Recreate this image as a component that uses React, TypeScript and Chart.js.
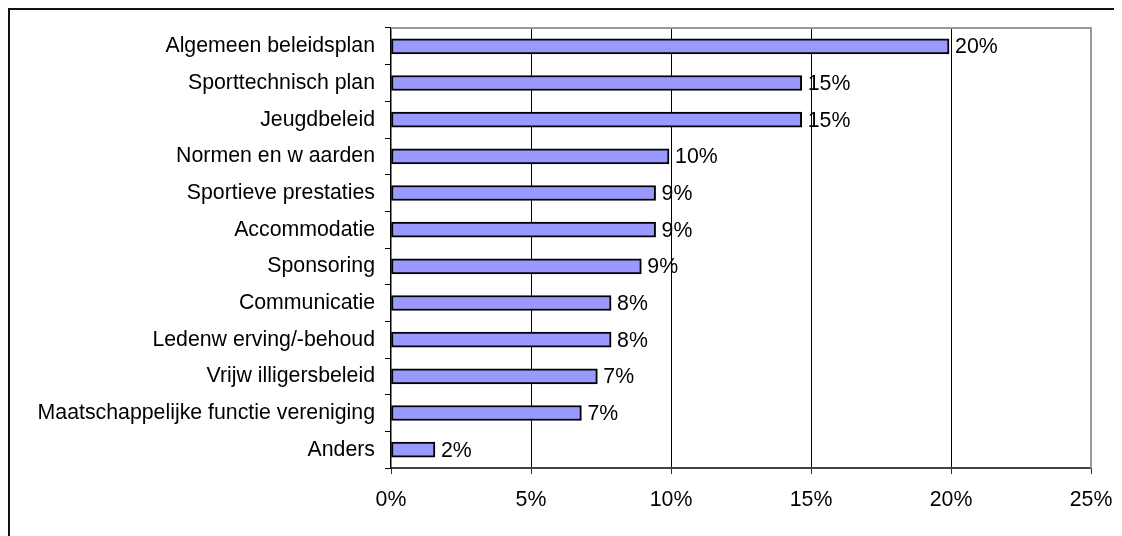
import React, { useEffect, useRef } from "react";
import { Chart, registerables } from "chart.js";

Chart.register(...registerables);

const categories: string[] = [
  "Algemeen beleidsplan",
  "Sporttechnisch plan",
  "Jeugdbeleid",
  "Normen en w aarden",
  "Sportieve prestaties",
  "Accommodatie",
  "Sponsoring",
  "Communicatie",
  "Ledenw erving/-behoud",
  "Vrijw illigersbeleid",
  "Maatschappelijke functie vereniging",
  "Anders",
];

const values: number[] = [19.93, 14.67, 14.67, 9.93, 9.45, 9.45, 8.94, 7.86, 7.86, 7.37, 6.8, 1.57];

const valueLabels: string[] = ["20%", "15%", "15%", "10%", "9%", "9%", "9%", "8%", "8%", "7%", "7%", "2%"];

const xTickLabels: string[] = ["0%", "5%", "10%", "15%", "20%", "25%"];

const FONT = "'Liberation Sans', Arial, sans-serif";
const FONT_SIZE = 21.3;

const frameLines = {
  id: "frameLines",
  afterDraw(chart: any) {
    const { ctx, chartArea } = chart;
    ctx.save();
    ctx.strokeStyle = "#9a9a9a";
    ctx.lineWidth = 2;
    ctx.beginPath();
    ctx.moveTo(chartArea.left, chartArea.top);
    ctx.lineTo(chartArea.right, chartArea.top);
    ctx.lineTo(chartArea.right, chartArea.bottom);
    ctx.stroke();
    ctx.restore();
  },
};

const barLabels = {
  id: "barLabels",
  afterDatasetsDraw(chart: any) {
    const { ctx } = chart;
    const meta = chart.getDatasetMeta(0);
    ctx.save();
    ctx.font = `${FONT_SIZE}px ${FONT}`;
    ctx.fillStyle = "#000";
    ctx.textAlign = "left";
    ctx.textBaseline = "middle";
    meta.data.forEach((bar: any, i: number) => {
      ctx.fillText(valueLabels[i], bar.x + 6, bar.y + 1);
    });
    ctx.restore();
  },
};

export default function App() {
  const ref = useRef<HTMLCanvasElement | null>(null);

  useEffect(() => {
    if (!ref.current) return;
    const chart = new Chart(ref.current, {
      type: "bar",
      data: {
        labels: categories,
        datasets: [
          {
            data: values,
            backgroundColor: "#9999ff",
            borderColor: "#000000",
            borderWidth: 2,
            borderSkipped: false,
            barThickness: 15,
          },
        ],
      },
      options: {
        indexAxis: "y",
        animation: false,
        responsive: false,
        layout: { padding: { left: 0, right: 31, top: 18, bottom: 0 } },
        plugins: {
          legend: { display: false },
          tooltip: { enabled: false },
        },
        scales: {
          x: {
            min: 0,
            max: 25,
            ticks: {
              stepSize: 5,
              color: "#000",
              padding: 13,
              font: { family: FONT, size: FONT_SIZE },
              callback: (_v: any, i: number) => xTickLabels[i],
              maxRotation: 0,
            },
            grid: {
              color: (c: any) => (c.index === 0 || c.index === 5 ? "rgba(0,0,0,0)" : "#000"),
              lineWidth: 1,
              tickColor: "#333",
              tickLength: 6,
            },
            border: { color: "#444", width: 2 },
            afterFit: (s: any) => {
              s.height = 68;
              s.paddingLeft = 0;
              s.paddingRight = 0;
              s.paddingTop = 0;
              s.paddingBottom = 0;
            },
          },
          y: {
            ticks: {
              color: "#000",
              padding: 10,
              font: { family: FONT, size: FONT_SIZE },
              autoSkip: false,
            },
            grid: {
              offset: true,
              drawOnChartArea: false,
              tickColor: "#000",
              tickLength: 6,
            },
            border: { color: "#000", width: 1.5 },
            afterFit: (s: any) => {
              s.width = 381;
              s.paddingLeft = 0;
              s.paddingRight = 0;
              s.paddingTop = 0;
              s.paddingBottom = 0;
            },
          },
        },
      },
      plugins: [frameLines, barLabels],
    });
    return () => chart.destroy();
  }, []);

  return (
    <div
      style={{
        position: "relative",
        width: 1114,
        height: 528,
        boxSizing: "border-box",
        borderTop: "2px solid #111",
        borderLeft: "2px solid #111",
        background: "#fff",
        overflow: "hidden",
      }}
    >
      <canvas
        ref={ref}
        width={1112}
        height={526}
        style={{ position: "absolute", left: 0, top: 0, width: 1112, height: 526 }}
      />
    </div>
  );
}
